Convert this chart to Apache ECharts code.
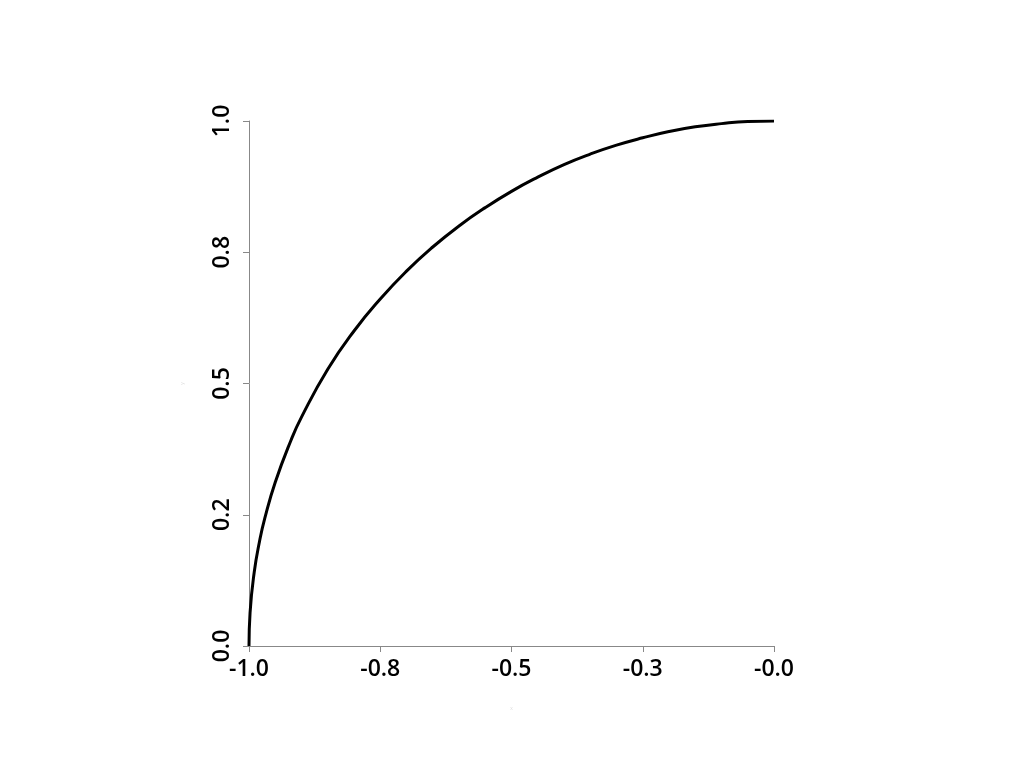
<!DOCTYPE html>
<html>
<head>
<meta charset="utf-8">
<script src="https://cdn.jsdelivr.net/npm/echarts@6/dist/echarts.min.js"></script>
<style>
    html, body { margin: 0; padding: 0; background: #fff; }
    #chart { width: 1024px; height: 768px; }
</style>
</head>
<body>
<div id="chart"></div>
<script type="text/javascript">
    // points (x, y)
    var xValues = [-1.0, -0.998, -0.99, -0.98, -0.97, -0.95, -0.92, -0.9, -0.85, -0.8, -0.75, -0.7, -0.65, -0.6, -0.55, -0.5, -0.45, -0.4, -0.35, -0.3, -0.25, -0.2, -0.15, -0.1, -0.05, 0.0];
    var yValues = [0.0, 0.063, 0.141, 0.199, 0.243, 0.312, 0.392, 0.436, 0.527, 0.6, 0.661, 0.714, 0.76, 0.8, 0.835, 0.866, 0.893, 0.917, 0.937, 0.954, 0.968, 0.98, 0.989, 0.995, 0.999, 1.0];
    var xTicks = [-1.0, -0.75, -0.5, -0.25, 0.0];
    var xTickLabels = ['-1.0', '-0.8', '-0.5', '-0.3', '-0.0'];
    var yTicks = [0.0, 0.25, 0.5, 0.75, 1.0];
    var yTickLabels = ['0.0', '0.2', '0.5', '0.8', '1.0'];

    function tickLabel(ticks, labels) {
        return function (v) {
            for (var i = 0; i < ticks.length; i++) {
                if (Math.abs(ticks[i] - v) < 1e-9) return labels[i];
            }
            return '';
        };
    }

    var points = xValues.map(function (x, i) { return [x, yValues[i]]; });

    var myChart = echarts.init(document.getElementById('chart'));
    var axisStyle = {
        axisLine: { show: true, onZero: false, lineStyle: { color: '#888', width: 1 } },
        axisTick: { show: true, length: 6, lineStyle: { color: '#888', width: 1 } },
        splitLine: { show: false }
    };
    var option = {
        animation: false,
        grid: { left: 249, right: 250, top: 121, bottom: 122, containLabel: false, outerBoundsMode: 'none' },
        xAxis: Object.assign({
            type: 'value',
            min: -1,
            max: 0,
            interval: 0.25,
            name: 'x',
            nameLocation: 'middle',
            nameGap: 60,
            nameTextStyle: { fontSize: 5, color: '#ddd' },
            axisLabel: {
                formatter: tickLabel(xTicks, xTickLabels),
                fontFamily: 'Open Sans',
                fontWeight: 600,
                fontSize: 23,
                color: '#000',
                margin: 12
            }
        }, axisStyle),
        yAxis: Object.assign({
            type: 'value',
            min: 0,
            max: 1,
            interval: 0.25,
            name: 'y',
            nameLocation: 'middle',
            nameGap: 64,
            nameTextStyle: { fontSize: 5, color: '#ddd' },
            axisLabel: {
                formatter: tickLabel(yTicks, yTickLabels),
                rotate: 90,
                fontFamily: 'Open Sans',
                fontWeight: 600,
                fontSize: 23,
                color: '#000',
                margin: 15
            }
        }, axisStyle),
        series: [{
            type: 'line',
            data: points,
            smooth: true,
            showSymbol: false,
            lineStyle: { color: '#000', width: 3 }
        }]
    };
    myChart.setOption(option);
</script>
</body>
</html>
